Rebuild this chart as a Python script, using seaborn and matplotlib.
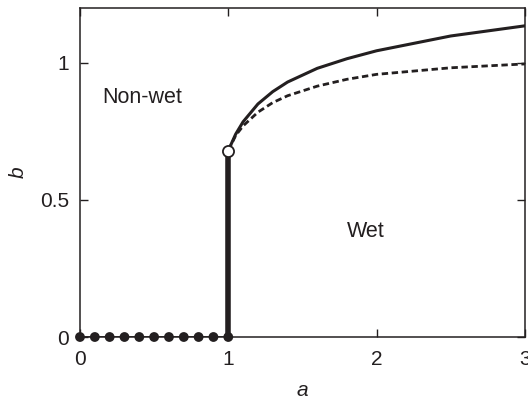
import numpy as np
import pandas as pd
import matplotlib
matplotlib.use('Agg')
import matplotlib.pyplot as plt
import seaborn as sns

# solid curve (upper branch)
a_solid = [1.0, 1.05, 1.1, 1.2, 1.3, 1.4, 1.6, 1.8, 2.0, 2.5, 3.0]
b_solid = [0.68, 0.74, 0.785, 0.85, 0.895, 0.93, 0.98, 1.015, 1.044, 1.098, 1.135]

# dashed curve (lower branch)
a_dash = [1.0, 1.05, 1.1, 1.2, 1.3, 1.4, 1.6, 1.8, 2.0, 2.5, 3.0]
b_dash = [0.68, 0.735, 0.77, 0.82, 0.855, 0.88, 0.915, 0.94, 0.958, 0.982, 0.996]

# non-wet points on b = 0
a_dots = [0.0, 0.1, 0.2, 0.3, 0.4, 0.5, 0.6, 0.7, 0.8, 0.9, 1.0]
b_dots = [0.0] * len(a_dots)

# vertical jump at a = 1
a_jump = [1.0, 1.0]
b_jump = [0.0, 0.68]

sns.set_style('ticks')
plt.rcParams['font.family'] = ['Liberation Sans', 'DejaVu Sans']

fig = plt.figure(figsize=(5.28, 4.01), dpi=100)
ax = fig.add_axes([0.1515, 0.1596, 0.8425, 0.8204])

ink = '#231f20'
sns.lineplot(x=a_solid, y=b_solid, ax=ax, color=ink, lw=2.2, sort=False, estimator=None)
sns.lineplot(x=a_dash, y=b_dash, ax=ax, color=ink, lw=2.0, sort=False, estimator=None,
             linestyle=(0, (2.3, 1.3)))
sns.lineplot(x=a_jump, y=b_jump, ax=ax, color=ink, lw=4.0, sort=False, estimator=None)
sns.lineplot(x=a_dots, y=b_dots, ax=ax, color=ink, lw=2.0, sort=False, estimator=None,
             zorder=3)
sns.scatterplot(x=a_dots, y=b_dots, ax=ax, color=ink, s=50,
                edgecolor='none', zorder=4, clip_on=False)
ax.plot([a_jump[1]], [b_jump[1]], 'o', ms=8, mfc='white', mec=ink,
        mew=1.3, zorder=5)

ax.set_xlim(0, 3)
ax.set_ylim(0, 1.2)
ax.set_xticks([0, 1, 2, 3])
ax.set_xticklabels(['0', '1', '2', '3'])
ax.set_yticks([0, 0.5, 1])
ax.set_yticklabels(['0', '0.5', '1'])
ax.tick_params(direction='in', length=6, width=1.0, top=True, right=True,
               labelsize=15, colors=ink)
ax.tick_params(axis='x', pad=9)
ax.tick_params(axis='y', pad=8)
for s in ax.spines.values():
    s.set_linewidth(1.1)
    s.set_color(ink)

ax.set_xlabel('a', fontsize=15, style='italic', labelpad=9, color=ink)
ax.set_ylabel('b', fontsize=15, style='italic', labelpad=9, color=ink)

ax.text(0.42, 0.875, 'Non-wet', fontsize=15.5, ha='center', va='center', color=ink)
ax.text(1.93, 0.385, 'Wet', fontsize=15.5, ha='center', va='center', color=ink)

fig.savefig('out.png', dpi=100)
